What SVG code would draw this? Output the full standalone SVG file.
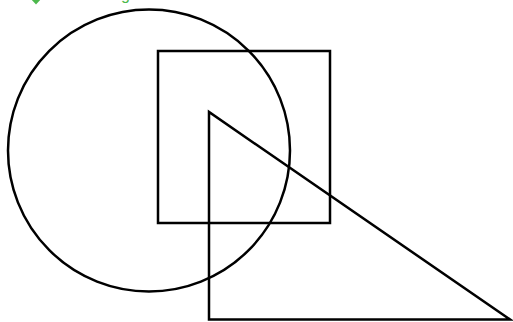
<svg xmlns="http://www.w3.org/2000/svg" width="513" height="322" viewBox="0 0 513 322">
<style>
.shape{fill:none;stroke:#000;stroke-width:2.5}
.lbl{font-family:"Liberation Sans",Arial,sans-serif;font-size:16px;fill:#4cb84c}
</style>
<rect width="513" height="322" fill="#fff"/>
<g id="header">
<path d="M30,-2 L36,4.5 L42,-2 Z" fill="#4cb84c"/>
<text class="lbl" x="121" y="0">g</text>
</g>
<g id="circle"><circle class="shape" cx="149" cy="150.5" r="141"/></g>
<g id="square"><rect class="shape" x="158" y="51" width="172" height="172"/></g>
<g id="triangle"><polygon class="shape" points="209,112 209,319.5 510,319.5"/></g>
</svg>
